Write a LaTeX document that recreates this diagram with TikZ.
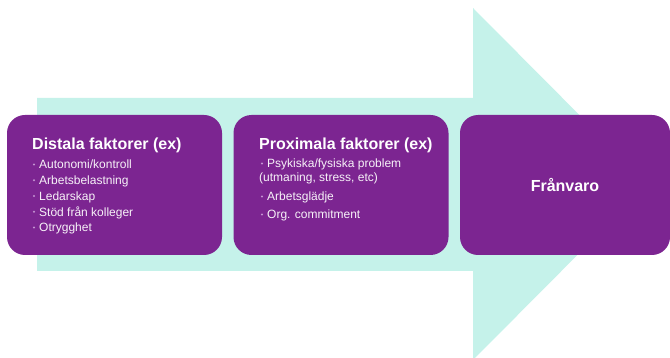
\documentclass[tikz,border=0pt]{standalone}
\usepackage{fontspec}
\setmainfont{Liberation Sans}
\definecolor{lila}{RGB}{124,37,145}
\definecolor{mint}{RGB}{197,242,234}
\definecolor{prick}{RGB}{196,148,210}
\begin{document}
\begin{tikzpicture}[x=1pt, y=-1pt,
    ruta/.style={fill=lila, rounded corners=18pt, minimum height=140pt, inner sep=0pt},
    rubrik/.style={anchor=base west, inner sep=0pt, text=white, font=\fontsize{16}{19}\selectfont\bfseries},
    punkt/.style={anchor=base west, inner sep=0pt, text=white!94!lila, font=\fontsize{12}{14}\selectfont}]
  \useasboundingbox (0,0) rectangle (670,358);
  % pilen
  \fill[mint] (37,98) -- (473,98) -- (473,8) -- (648,184) -- (473,360) -- (473,271) -- (37,271) -- cycle;
  % rutorna
  \node[ruta, minimum width=215pt] (distal) at (114.5,185) {};
  \node[ruta, minimum width=215pt] (proximal) at (341,185) {};
  \node[ruta, minimum width=210pt, text=white, font=\fontsize{16}{19}\selectfont\bfseries] (franvaro) at (565,185) {Frånvaro};
  % distala
  \node[rubrik] (distal-rubrik) at (32,150) {Distala faktorer (ex)};
  \foreach \t [count=\i] in {Autonomi/kontroll, Arbetsbelastning, Ledarskap, Stöd från kolleger, Otrygghet} {
    \fill[prick] (34,{164.5+15.75*(\i-1)}) circle (1.2pt);
    \node[punkt] (distal\i) at (39,{169+15.75*(\i-1)}) {\t};}
  % proximala
  \node[rubrik] (prox-rubrik) at (259,150) {Proximala faktorer (ex)};
  \fill[prick] (262,163.5) circle (1.2pt);
  \node[punkt] (prox1) at (267,168) {Psykiska/fysiska problem};
  \node[punkt] (prox1b) at (259,182) {(utmaning, stress, etc)};
  \fill[prick] (262,196.5) circle (1.2pt);
  \node[punkt] (prox2) at (267,201) {Arbetsglädje};
  \fill[prick] (262,214.5) circle (1.2pt);
  \node[punkt] (prox3) at (267,219) {Org. commitment};
\end{tikzpicture}
\end{document}
